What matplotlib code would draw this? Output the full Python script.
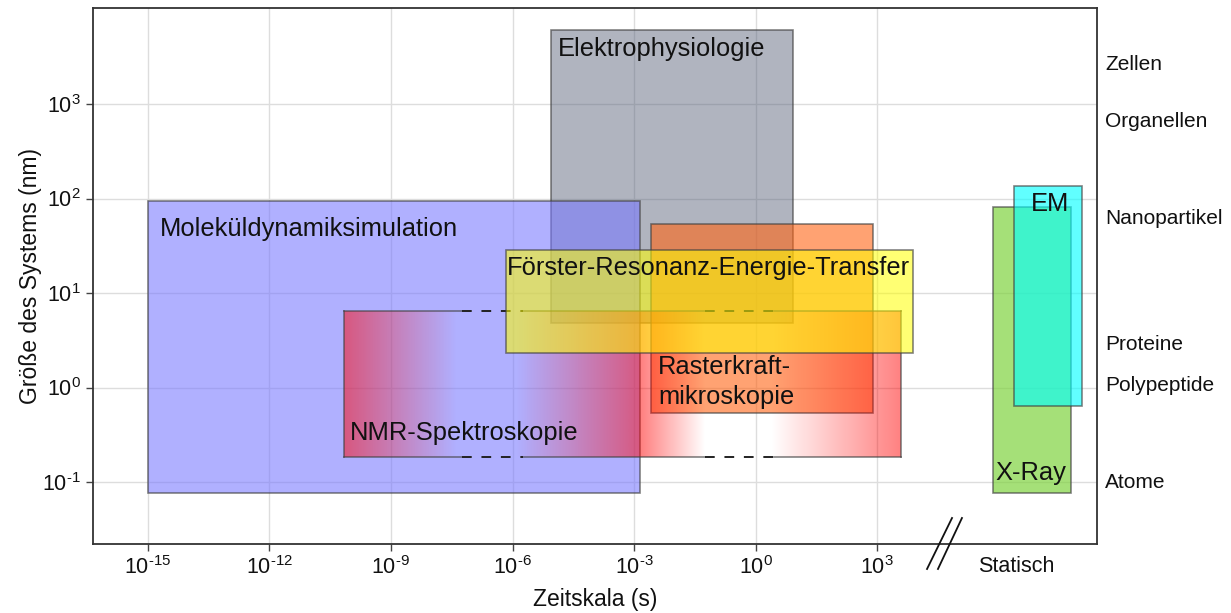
import numpy as np
import matplotlib
matplotlib.use("Agg")
import matplotlib.pyplot as plt
from matplotlib.patches import Rectangle

plt.rcParams['font.family'] = ['Liberation Sans', 'DejaVu Sans']
plt.rcParams['mathtext.fontset'] = 'custom'
plt.rcParams['mathtext.rm'] = 'Liberation Sans'
plt.rcParams['mathtext.it'] = 'Liberation Sans'
plt.rcParams['mathtext.default'] = 'regular'

# Methods: x range in log10(seconds), y range in nm
methods = ["Elektrophysiologie", "Moleküldynamiksimulation", "Rasterkraft-\nmikroskopie",
           "NMR-Spektroskopie", "Förster-Resonanz-Energie-Transfer", "X-Ray", "EM"]
x_lo = [-5.05, -15.0, -2.58, -10.16, -6.16, 5.86, 6.36]
x_hi = [0.93, -2.85, 2.90, 3.59, 3.89, 7.77, 8.06]
y_lo = [4.8, 0.0766, 0.537, 0.184, 2.32, 0.0766, 0.637]
y_hi = [6050, 94, 53.7, 6.46, 28.5, 81, 135]

# label anchors (left, centre)
label_x = [-4.88, -14.70, -2.41, -10.01, -6.14, 5.91, 6.80]
label_y = [3850, 47.5, 1.14, 0.33, 18.4, 0.124, 87.5]

# NMR fill fades out where the method does not apply
nmr_stop_x = [-10.16, -7.40, -5.94, -2.85, -1.25, 0.36, 3.59]
nmr_stop_a = [0.5, 0.0, 0.0, 0.5, 0.0, 0.0, 0.5]
nmr_gaps = [(-7.25, -5.74), (-1.25, 0.46)]

# time ticks
time_exp = [-15, -12, -9, -6, -3, 0, 3]
static_x = 6.43
size_exp = [-1, 0, 1, 2, 3]

# size classes on the right
classes = ["Zellen", "Organellen", "Nanopartikel", "Proteine", "Polypeptide", "Atome"]
class_y = [2600, 661, 62, 2.82, 1.04, 0.1]

face = {
    "Elektrophysiologie": ((80/255, 90/255, 115/255), 0.45),
    "Moleküldynamiksimulation": ((121/255, 121/255, 1.0), 0.59),
    "Rasterkraft-\nmikroskopie": ((1.0, 100/255, 20/255), 0.6),
    "Förster-Resonanz-Energie-Transfer": ((1.0, 1.0, 0.0), 0.55),
    "X-Ray": ((127/255, 211/255, 63/255), 0.7),
    "EM": ((0.0, 1.0, 1.0), 0.62),
}
edge = (0.25, 0.25, 0.25, 0.65)


def pow_label(e):
    if e < 0:
        return f"$10^{{\\text{{-}}{-e}}}$"
    return f"$10^{{{e}}}$"


fig = plt.figure(figsize=(12.31, 6.13), dpi=100)
ax = fig.add_axes([93/1231, 1 - 544/613, (1097-93)/1231, (544-8)/613])
ax.set_yscale('log')

for i, name in enumerate(methods):
    z = 2 + i
    if name.startswith("NMR"):
        xs = np.linspace(x_lo[i], x_hi[i], 600)
        img = np.zeros((1, xs.size, 4))
        img[..., 0] = 1.0
        img[0, :, 3] = np.interp(xs, nmr_stop_x, nmr_stop_a)
        ax.imshow(img, extent=[x_lo[i], x_hi[i], y_lo[i], y_hi[i]], aspect='auto',
                  interpolation='bilinear', zorder=z)
        ax.plot([x_lo[i], x_lo[i]], [y_lo[i], y_hi[i]], color=edge, lw=1.2, zorder=z)
        ax.plot([x_hi[i], x_hi[i]], [y_lo[i], y_hi[i]], color=edge, lw=1.2, zorder=z)
        cuts = [x_lo[i]] + [v for g in nmr_gaps for v in g] + [x_hi[i]]
        for yy in (y_lo[i], y_hi[i]):
            for k in range(0, len(cuts), 2):
                ax.plot([cuts[k], cuts[k+1]], [yy, yy], color=edge, lw=1.2, zorder=z)
            for g in nmr_gaps:
                ax.plot(list(g), [yy, yy], color='#222222', lw=1.4, ls=(0, (5, 5)), zorder=z)
        continue
    c, a = face[name]
    ax.add_patch(Rectangle((x_lo[i], y_lo[i]), x_hi[i] - x_lo[i], y_hi[i] - y_lo[i],
                           facecolor=(*c, a), edgecolor=edge, lw=1.2, zorder=z))

for i, name in enumerate(methods):
    ax.text(label_x[i], label_y[i], name, fontsize=18.4, ha='left', va='center',
            color='#111111', zorder=20, linespacing=1.35)

ax.set_xlim(-16.35, 8.42)
ax.set_ylim(10 ** -1.656, 10 ** 4.016)

ax.set_xticks(time_exp + [static_x])
ax.set_xticklabels([pow_label(e) for e in time_exp] + ["Statisch"])
ax.set_yticks([10.0 ** e for e in size_exp])
ax.set_yticklabels([pow_label(e) for e in size_exp])
ax.yaxis.set_minor_locator(matplotlib.ticker.NullLocator())
ax.tick_params(labelsize=15.5, length=5, width=1.0, color='#444444', labelcolor='#111111')
ax.grid(True, color='#dddddd', lw=1.0)
ax.set_axisbelow(True)
last = ax.xaxis.get_major_ticks()[-1]
last.tick1line.set_visible(False)
last.gridline.set_visible(False)

for s in ax.spines.values():
    s.set_color('#333333')
    s.set_linewidth(1.3)

ax.set_xlabel("Zeitskala (s)", fontsize=16.5, color='#111111', labelpad=7)
ax.set_ylabel("Größe des Systems (nm)", fontsize=16.5, color='#111111', labelpad=0)

tr = ax.get_yaxis_transform()
for name, yy in zip(classes, class_y):
    ax.text(1.008, yy, name, transform=tr, fontsize=15, ha='left', va='center', color='#111111')

# axis break marks
for x0, x1 in [(0.8307, 0.8556), (0.8416, 0.8655)]:
    ax.plot([x0, x1], [-0.0466, 0.0485], transform=ax.transAxes, color='#111111',
            lw=1.3, clip_on=False, zorder=30)

fig.savefig("out.png", dpi=100)
